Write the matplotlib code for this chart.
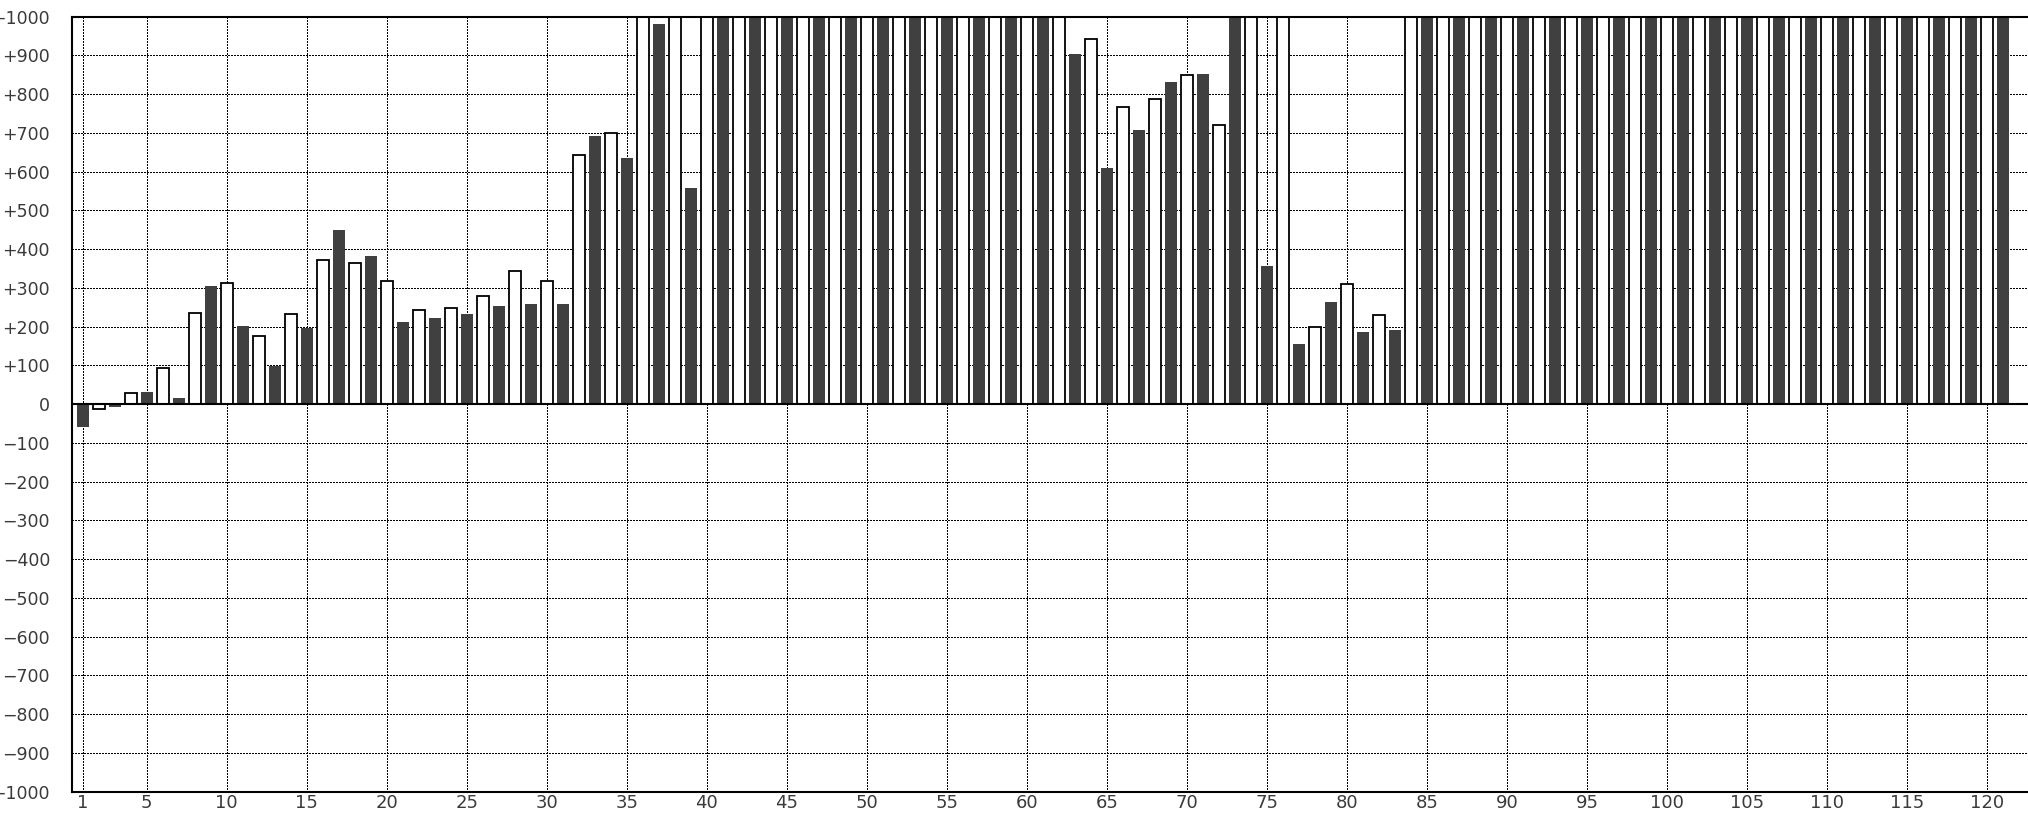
import matplotlib
matplotlib.use('Agg')
import matplotlib.pyplot as plt

# ---- data ----
positions = list(range(1, 122))
values = [
    -60, -12, -8, 30, 32, 93, 16, 236, 305, 314,
    202, 175, 99, 232, 197, 371, 450, 365, 383, 319,
    212, 242, 223, 247, 233, 279, 254, 345, 259, 319,
    259, 644, 692, 701, 635, 1100, 981, 1100, 558, 1100,
    1100, 1100, 1100, 1100, 1100, 1100, 1100, 1100, 1100, 1100,
    1100, 1100, 1100, 1100, 1100, 1100, 1100, 1100, 1100, 1100,
    1100, 1100, 904, 943, 610, 768, 708, 788, 831, 850,
    852, 721, 1100, 1100, 357, 1100, 156, 200, 264, 309,
    187, 231, 192, 1100, 1100, 1100, 1100, 1100, 1100, 1100,
    1100, 1100, 1100, 1100, 1100, 1100, 1100, 1100, 1100, 1100,
    1100, 1100, 1100, 1100, 1100, 1100, 1100, 1100, 1100, 1100,
    1100, 1100, 1100, 1100, 1100, 1100, 1100, 1100, 1100, 1100,
    1100,
]
x_ticks = [1] + list(range(5, 121, 5))
y_ticks = list(range(-1000, 1001, 100))
y_labels = [('+%d' % v) if v > 0 else ('0' if v == 0 else '\u2212%d' % (-v)) for v in y_ticks]

# ---- figure ----
fig = plt.figure(figsize=(20.28, 8.14), dpi=100)
left = 72.3 / 2028
bottom = 1 - 791.7 / 814
top = 1 - 16.7 / 814
ax = fig.add_axes([left, bottom, 1 - left, top - bottom])

dark = '#404040'
odd_pos = [p for p in positions if p % 2 == 1]
odd_val = [v for p, v in zip(positions, values) if p % 2 == 1]
even_pos = [p for p in positions if p % 2 == 0]
even_val = [v for p, v in zip(positions, values) if p % 2 == 0]

ax.bar(odd_pos, odd_val, width=0.75, color=dark, edgecolor='none', zorder=2)
ax.bar(even_pos, even_val, width=0.75, color='white', edgecolor='black',
       linewidth=1.3, zorder=2)
ax.axhline(0, color='black', linewidth=1.5, zorder=3)

ax.set_xlim(0.35, 122.55)
ax.set_ylim(-1000, 1000)
ax.set_xticks(x_ticks)
ax.set_xticklabels([str(t) for t in x_ticks])
ax.set_yticks(y_ticks)
ax.set_yticklabels(y_labels)

ax.set_axisbelow(True)
ax.grid(True, color='black', linestyle=(0, (2, 1.4)), linewidth=0.72,
        antialiased=False)

for s in ['left', 'bottom', 'top']:
    ax.spines[s].set_linewidth(1.5)
    ax.spines[s].set_color('black')
ax.spines['right'].set_visible(False)

ax.tick_params(axis='both', length=0)
ax.tick_params(axis='y', pad=16, labelsize=12.5, labelcolor='#3a3a3a')
ax.tick_params(axis='x', pad=1.5, labelsize=13, labelcolor='#3a3a3a')

fig.savefig('out.png', dpi=100)
